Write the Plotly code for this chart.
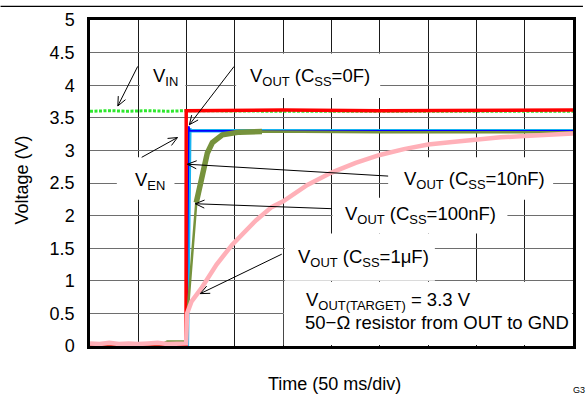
import math
import plotly.graph_objects as go

# ---------------- data (time in ms, voltage in V) ----------------
vin_t = [0, 20, 40, 60, 80, 99.5, 200, 300, 400, 500]
vin_v = [3.60, 3.61, 3.60, 3.61, 3.60, 3.61, 3.60, 3.60, 3.60, 3.60]

ven_t = [0, 99.4, 99.6, 200, 300, 400, 500]
ven_v = [0.0, 0.0, 3.61, 3.62, 3.61, 3.62, 3.62]

c10n_t = [0, 100.8, 103.3, 104.5, 200, 500]
c10n_v = [0.0, 0.0, 3.33, 3.30, 3.30, 3.30]

c0_t = [0, 100.0, 102.2, 103.5, 200, 500]
c0_v = [0.0, 0.0, 3.37, 3.30, 3.30, 3.30]

c100n_t = [0, 75, 80, 100, 101, 110, 118.5, 121.5, 126.7, 137, 154.5, 178, 300, 500]
c100n_v = [0.03, 0.03, 0.07, 0.07, 0.50, 2.20, 2.81, 2.96, 3.12, 3.24, 3.28, 3.29, 3.28, 3.28]

c1u_t = [0, 10, 20, 30, 40, 50, 60, 70, 80, 90, 99.5, 100.5, 105, 115, 126, 131, 147,
         160, 172, 188, 200, 225, 250, 275, 300, 325, 350, 375, 400, 425, 450, 475, 500]
c1u_v = [0.04, 0.03, 0.05, 0.03, 0.04, 0.03, 0.04, 0.05, 0.03, 0.04, 0.04, 0.50, 0.68,
         0.88, 1.14, 1.25, 1.55, 1.75, 1.93, 2.13, 2.22, 2.47, 2.66, 2.81, 2.93, 3.02,
         3.09, 3.13, 3.17, 3.20, 3.22, 3.24, 3.26]

y_ticks = [0, 0.5, 1, 1.5, 2, 2.5, 3, 3.5, 4, 4.5, 5]
y_tick_text = ["0", "0.5", "1", "1.5", "2", "2.5", "3", "3.5", "4", "4.5", "5"]

# ---------------- layout geometry ----------------
W, H = 586, 399
L, R, T, B = 90, 576, 16, 346
XMAX, YMAX = 500, 5
FONT = "Arial, 'Liberation Sans', Helvetica, sans-serif"


def px2t(px):
    return (px - L) / (R - L) * XMAX


def py2v(py):
    return (B - py) / (B - T) * YMAX


def px2paper(px):
    return (px - L) / (R - L)


def py2paper(py):
    return (B - py) / (B - T)


fig = go.Figure()

fig.add_trace(go.Scatter(x=vin_t, y=vin_v, mode="lines",
                         line=dict(color="#2ee82e", width=3, dash="3px,1.5px"),
                         hoverinfo="skip"))
fig.add_trace(go.Scatter(x=c10n_t, y=c10n_v, mode="lines",
                         line=dict(color="#18b4f0", width=3.5), hoverinfo="skip"))
fig.add_trace(go.Scatter(x=c0_t, y=c0_v, mode="lines",
                         line=dict(color="#0000ff", width=1.6), hoverinfo="skip"))
fig.add_trace(go.Scatter(x=ven_t, y=ven_v, mode="lines",
                         line=dict(color="#ff0000", width=3.5), hoverinfo="skip"))
fig.add_trace(go.Scatter(x=c100n_t, y=c100n_v, mode="lines",
                         line=dict(color="#76923c", width=2.5), hoverinfo="skip"))
# thicker knee of the 100 nF curve (same series, sliced)
fig.add_trace(go.Scatter(x=c100n_t[5:12], y=c100n_v[5:12], mode="lines",
                         line=dict(color="#76923c", width=5.5), hoverinfo="skip"))
fig.add_trace(go.Scatter(x=c1u_t, y=c1u_v, mode="lines",
                         line=dict(color="#ffb0b8", width=4.5), hoverinfo="skip"))

shapes = []
annotations = []

# white label boxes (cover grid, below traces)
boxes = [
    (140, 52, 186, 95),
    (237, 50, 382, 95),
    (117, 155, 175, 198),
    (390, 155, 556, 198),
    (334, 196, 510, 232),
    (286, 232, 437, 280),
    (285, 281, 575, 345),
]
for x0, y0, x1, y1 in boxes:
    shapes.append(dict(type="rect", xref="x", yref="y", layer="between",
                       x0=px2t(x0), x1=px2t(x1), y0=py2v(y1), y1=py2v(y0),
                       fillcolor="white", line=dict(width=0)))

# arrows (tail px, head px)
arrows = [
    ((138, 63), (118, 103)),
    ((235, 63), (190, 122)),
    ((142, 155), (178, 135)),
    ((390, 174), (188, 162)),
    ((333, 207), (196, 202)),
    ((283, 253), (201, 293)),
]
for (tx, ty), (hx, hy) in arrows:
    shapes.append(dict(type="line", xref="x", yref="y", layer="above",
                       x0=px2t(tx), y0=py2v(ty), x1=px2t(hx), y1=py2v(hy),
                       line=dict(color="black", width=1)))
    dx, dy = hx - tx, hy - ty
    n = math.hypot(dx, dy)
    ux, uy = dx / n, dy / n
    hl, ang = 10, math.radians(24)
    pts = []
    for s in (1, -1):
        ca, sa = math.cos(s * ang), math.sin(s * ang)
        rx = ux * ca - uy * sa
        ry = ux * sa + uy * ca
        pts.append((hx - hl * rx, hy - hl * ry))
    path = "M {:.3f},{:.4f} L {:.3f},{:.4f} L {:.3f},{:.4f}".format(
        px2t(pts[0][0]), py2v(pts[0][1]), px2t(hx), py2v(hy),
        px2t(pts[1][0]), py2v(pts[1][1]))
    shapes.append(dict(type="path", xref="x", yref="y", layer="above", path=path,
                       line=dict(color="black", width=1)))

# top rule
shapes.append(dict(type="line", xref="paper", yref="paper",
                   x0=px2paper(0), x1=px2paper(W), y0=py2paper(2.3), y1=py2paper(2.3),
                   line=dict(color="black", width=1.3)))

LBL = 18.5
labels = [
    ("V<sub>IN</sub>", 166, 74),
    ("V<sub>OUT</sub> (C<sub>SS</sub>=0F)", 311, 74),
    ("V<sub>EN</sub>", 150, 179),
    ("V<sub>OUT</sub> (C<sub>SS</sub>=10nF)", 477, 178),
    ("V<sub>OUT</sub> (C<sub>SS</sub>=100nF)", 423, 213),
    ("V<sub>OUT</sub> (C<sub>SS</sub>=1μF)", 365, 257),
]
for txt, cx, cy in labels:
    annotations.append(dict(text=txt, xref="x", yref="y", x=px2t(cx), y=py2v(cy),
                            showarrow=False, xanchor="center", yanchor="middle",
                            font=dict(family=FONT, size=LBL, color="black")))

annotations.append(dict(text="V<sub>OUT(TARGET)</sub> = 3.3 V", xref="x", yref="y",
                        x=px2t(305), y=py2v(300), showarrow=False,
                        xanchor="left", yanchor="middle",
                        font=dict(family=FONT, size=LBL, color="black")))
annotations.append(dict(text="50−Ω resistor from OUT to GND", xref="x", yref="y",
                        x=px2t(304), y=py2v(322), showarrow=False,
                        xanchor="left", yanchor="middle",
                        font=dict(family=FONT, size=LBL, color="black")))

# axis titles
annotations.append(dict(text="Time (50 ms/div)", xref="paper", yref="paper",
                        x=px2paper(336), y=py2paper(384), showarrow=False,
                        xanchor="center", yanchor="middle",
                        font=dict(family=FONT, size=18, color="black")))
annotations.append(dict(text="Voltage (V)", xref="paper", yref="paper",
                        x=px2paper(22), y=py2paper(178), showarrow=False,
                        textangle=-90, xanchor="center", yanchor="middle",
                        font=dict(family=FONT, size=18, color="black")))
annotations.append(dict(text="G3", xref="paper", yref="paper",
                        x=px2paper(574), y=py2paper(391), showarrow=False,
                        xanchor="left", yanchor="middle",
                        font=dict(family=FONT, size=9, color="black")))

fig.update_layout(
    width=W, height=H,
    margin=dict(l=L, r=W - R, t=T, b=H - B, pad=0),
    paper_bgcolor="white", plot_bgcolor="white",
    showlegend=False,
    shapes=shapes, annotations=annotations,
    font=dict(family=FONT, color="black"),
)
fig.update_xaxes(range=[0, XMAX], dtick=50, tick0=0, showticklabels=False,
                 showgrid=True, gridcolor="#1a1a1a", gridwidth=1,
                 showline=True, linecolor="black", linewidth=2.5, mirror=True,
                 zeroline=False, ticks="", fixedrange=True)
fig.update_yaxes(range=[0, YMAX], tickmode="array", tickvals=y_ticks,
                 ticktext=y_tick_text, tickfont=dict(family=FONT, size=18, color="black"),
                 showgrid=True, gridcolor="#6e6e6e", gridwidth=1,
                 showline=True, linecolor="black", linewidth=2.5, mirror=True,
                 zeroline=False, ticks="", ticklabelstandoff=9, fixedrange=True)

fig.write_html("out.html", config={"displayModeBar": False},
               post_script="document.body.style.margin='0';document.body.style.overflow='hidden';")
